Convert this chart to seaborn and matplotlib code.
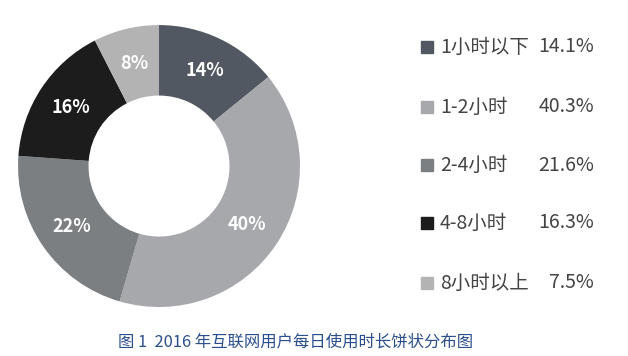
import matplotlib
matplotlib.use("Agg")
import matplotlib.pyplot as plt
import seaborn as sns
from matplotlib.patches import Rectangle

# Data
categories = ['1小时以下', '1-2小时', '2-4小时', '4-8小时', '8小时以上']
shares = [14.1, 40.3, 21.6, 16.3, 7.5]
colors = ['#515861', '#a6a8ab', '#7b7f82', '#1c1c1c', '#b3b3b3']
title = '图 1  2016 年互联网用户每日使用时长饼状分布图'

sns.set_theme(style='white')
plt.rcParams['font.family'] = ['Noto Sans CJK SC', 'DejaVu Sans']

fig = plt.figure(figsize=(6.28, 3.56), dpi=100)
ax = fig.add_axes([0.0287, 0.1376, 0.449, 0.792])

wedges, texts, autotexts = ax.pie(
    shares, colors=colors, startangle=90, counterclock=False,
    autopct=lambda p: f'{p:.0f}%', pctdistance=0.75,
    wedgeprops=dict(width=0.5, edgecolor='none'),
    textprops=dict(color='white', fontsize=13, fontweight='bold'))
ax.set_xlim(-1, 1)
ax.set_ylim(-1, 1)
ax.set_aspect('equal')
ax.axis('off')

# legend drawn by hand: square marker, label, percentage
row_y = [47, 107, 165, 223, 283]
for i, (cat, val, col) in enumerate(zip(categories, shares, colors)):
    yf = 1 - row_y[i] / 356
    fig.patches.append(Rectangle((421 / 628, yf - 6 / 356), 12 / 628, 12 / 356,
                                 transform=fig.transFigure, color=col))
    fig.text(440 / 628, yf, cat, fontsize=14, color='#444444', va='center', ha='left')
    fig.text(594 / 628, yf, f'{val}%', fontsize=14, color='#444444', va='center', ha='right')

fig.text(296 / 628, 1 - 342 / 356, title, fontsize=11.8, color='#2b4f8c',
         ha='center', va='center')

fig.savefig('out.png', dpi=100)
